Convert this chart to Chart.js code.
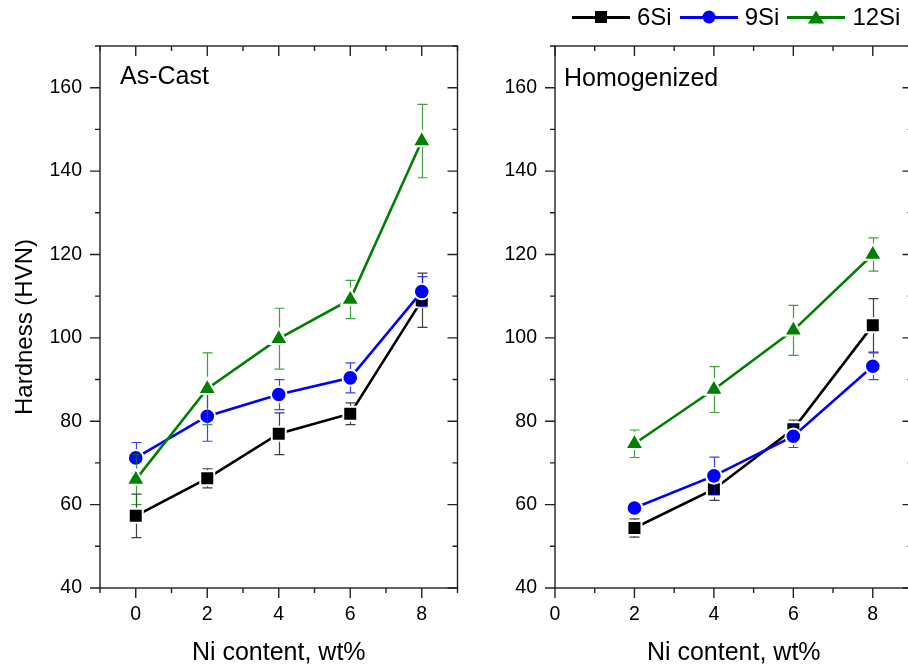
<!DOCTYPE html>
<html lang="en">
<head>
  <meta charset="UTF-8" />
  <title>Hardness vs Ni content</title>
  <script src="https://cdn.jsdelivr.net/npm/chart.js"></script>
  <style>
    body { margin: 0; width: 908px; height: 669px; overflow: hidden; background: #fff; position: relative;
           font-family: "Liberation Sans", Arial, sans-serif; }
    canvas { position: absolute; top: 0; }
    #legend { position: absolute; top: 3px; left: 572px; display: flex; align-items: center;
              font-size: 24px; line-height: 28px; color: #000; white-space: nowrap; }
    .sym { position: relative; width: 58px; height: 28px; margin-right: 7px; }
    .sym .ln { position: absolute; left: 0; right: 0; top: 13px; height: 2.5px; }
    .sym .mk { position: absolute; left: 50%; top: 50%; transform: translate(-50%, -50%); }
    .txt { margin-right: 8px; }
  </style>
</head>
<body>
  <canvas id="castChart" width="470" height="669" style="left:0"></canvas>
  <canvas id="homoChart" width="465" height="669" style="left:460px"></canvas>
  <div id="legend"></div>

  <script>
    // Ni content (x) and axis tick labels
    const niCast = [0, 2, 4, 6, 8];
    const niHomo = [2, 4, 6, 8];
    const xTicks = [0, 2, 4, 6, 8];
    const yTicks = [40, 60, 80, 100, 120, 140, 160];

    const seriesNames = ['6Si', '9Si', '12Si'];
    const seriesColors = ['#000000', '#0000ff', '#008000'];
    const seriesMarkers = ['rect', 'circle', 'triangle'];

    // As-Cast hardness (HVN) and errors
    const cast6Si = [57.3, 66.3, 77.0, 81.8, 109.0];
    const cast6SiErr = [5.2, 2.3, 5.0, 2.6, 6.5];
    const cast9Si = [71.2, 81.2, 86.4, 90.4, 111.1];
    const cast9SiErr = [3.7, 6.0, 3.6, 3.6, 3.6];
    const cast12Si = [66.0, 87.8, 99.8, 109.2, 147.2];
    const cast12SiErr = [6.0, 8.6, 7.3, 4.6, 8.8];

    // Homogenized hardness (HVN) and errors
    const homo6Si = [54.4, 63.7, 78.1, 103.0];
    const homo6SiErr = [2.2, 2.7, 2.2, 6.4];
    const homo9Si = [59.2, 66.9, 76.4, 93.2];
    const homo9SiErr = [1.0, 4.5, 2.7, 3.2];
    const homo12Si = [74.6, 87.6, 101.8, 120.0];
    const homo12SiErr = [3.3, 5.5, 6.0, 4.0];

    Chart.defaults.font.family = "'Liberation Sans', Arial, sans-serif";
    Chart.defaults.color = '#000';

    const pointRadius = { rect: 9.9, circle: 7.8, triangle: 10.5 };

    function makeDataset(i, xs, ys, errs) {
      return {
        label: seriesNames[i],
        data: xs.map((x, k) => ({ x: x, y: ys[k] })),
        errors: errs,
        borderColor: seriesColors[i],
        backgroundColor: seriesColors[i],
        borderWidth: 2.6,
        pointStyle: seriesMarkers[i],
        pointRadius: pointRadius[seriesMarkers[i]],
        pointBackgroundColor: seriesColors[i],
        pointBorderColor: '#fff',
        pointBorderWidth: 2,
        order: 2 - i,
        tension: 0
      };
    }

    // draw the error bars under each series
    const errorBars = {
      id: 'errorBars',
      beforeDatasetDraw(chart, args) {
        const ds = chart.data.datasets[args.index];
        const ys = chart.scales.y;
        const ctx = chart.ctx;
        ctx.save();
        ctx.strokeStyle = ds.borderColor;
        ctx.globalAlpha = 0.75;
        ctx.lineWidth = 1.2;
        args.meta.data.forEach((pt, k) => {
          const v = ds.data[k].y, e = ds.errors[k];
          const x = Math.round(pt.x) + 0.5;
          const t = ys.getPixelForValue(v + e), b = ys.getPixelForValue(v - e);
          ctx.beginPath();
          ctx.moveTo(x, t); ctx.lineTo(x, b);
          ctx.moveTo(x - 5, t); ctx.lineTo(x + 5, t);
          ctx.moveTo(x - 5, b); ctx.lineTo(x + 5, b);
          ctx.stroke();
        });
        ctx.restore();
      }
    };

    // box frame with major/minor ticks (out on left/bottom, in on top/right)
    const frame = {
      id: 'frame',
      afterDraw(chart, args, opts) {
        const { ctx, chartArea: a, scales: { x, y } } = chart;
        ctx.save();
        ctx.strokeStyle = '#222';
        ctx.lineWidth = 1.4;
        ctx.strokeRect(a.left, a.top, a.right - a.left, a.bottom - a.top);
        ctx.beginPath();
        for (let v = Math.ceil(x.min); v <= x.max; v++) {
          const px = x.getPixelForValue(v), len = v % 2 === 0 ? 10 : 5;
          ctx.moveTo(px, a.bottom); ctx.lineTo(px, a.bottom + len);
          ctx.moveTo(px, a.top); ctx.lineTo(px, a.top + len);
        }
        for (let v = y.min; v <= y.max; v += 10) {
          const py = y.getPixelForValue(v), len = v % 20 === 0 ? 10 : 5;
          ctx.moveTo(a.left, py); ctx.lineTo(a.left - len, py);
          ctx.moveTo(a.right, py); ctx.lineTo(a.right - len, py);
        }
        ctx.stroke();

        ctx.fillStyle = '#000';
        ctx.font = "25px 'Liberation Sans', Arial, sans-serif";
        ctx.textBaseline = 'alphabetic';
        ctx.fillText(opts.label, a.left + opts.dx, a.top + opts.dy);

        if (opts.yTitle) {
          ctx.font = "24px 'Liberation Sans', Arial, sans-serif";
          ctx.translate(32, 327);
          ctx.rotate(-Math.PI / 2);
          ctx.textAlign = 'center';
          ctx.fillText(opts.yTitle, 0, 0);
        }
        ctx.restore();
      }
    };

    function makeChart(id, xs, sets, xMin, yWidth, frameOpts) {
      return new Chart(document.getElementById(id), {
        type: 'line',
        data: {
          datasets: sets.map((s, i) => makeDataset(i, xs, s[0], s[1]))
        },
        options: {
          responsive: false,
          animation: false,
          layout: { padding: { left: 0, right: 10, top: 46, bottom: 0 } },
          plugins: { legend: { display: false }, tooltip: { enabled: false }, frame: frameOpts },
          scales: {
            x: {
              type: 'linear', min: xMin, max: 9,
              afterBuildTicks: s => { s.ticks = xTicks.map(v => ({ value: v })); },
              afterFit: s => { s.height = 81; },
              grid: { display: false },
              border: { display: false },
              ticks: { font: { size: 19.5 }, padding: 7, maxRotation: 0 },
              title: { display: true, text: 'Ni content, wt%', font: { size: 25 }, padding: { top: 0, bottom: 1 } }
            },
            y: {
              min: 40, max: 170,
              afterBuildTicks: s => { s.ticks = yTicks.map(v => ({ value: v })); },
              afterFit: s => { s.width = yWidth; },
              grid: { display: false },
              border: { display: false },
              ticks: { font: { size: 19.5 }, padding: 10 }
            }
          }
        },
        plugins: [errorBars, frame]
      });
    }

    makeChart('castChart', niCast,
      [[cast6Si, cast6SiErr], [cast9Si, cast9SiErr], [cast12Si, cast12SiErr]],
      -1, 100, { label: 'As-Cast', dx: 20, dy: 38, yTitle: 'Hardness (HVN)' });

    makeChart('homoChart', niHomo,
      [[homo6Si, homo6SiErr], [homo9Si, homo9SiErr], [homo12Si, homo12SiErr]],
      0, 95, { label: 'Homogenized', dx: 9, dy: 40 });

    // legend: line - marker - line, then name
    const legend = document.getElementById('legend');
    seriesNames.forEach((name, i) => {
      const c = seriesColors[i];
      let mk;
      if (seriesMarkers[i] === 'rect') mk = `width:12px;height:12px;background:${c}`;
      else if (seriesMarkers[i] === 'circle') mk = `width:13px;height:13px;border-radius:50%;background:${c}`;
      else mk = `width:0;height:0;border-left:8px solid transparent;border-right:8px solid transparent;border-bottom:13px solid ${c}`;
      legend.insertAdjacentHTML('beforeend',
        `<span class="sym"><i class="ln" style="background:${c}"></i><i class="mk" style="${mk}"></i></span>` +
        `<span class="txt">${name}</span>`);
    });
  </script>
</body>
</html>
